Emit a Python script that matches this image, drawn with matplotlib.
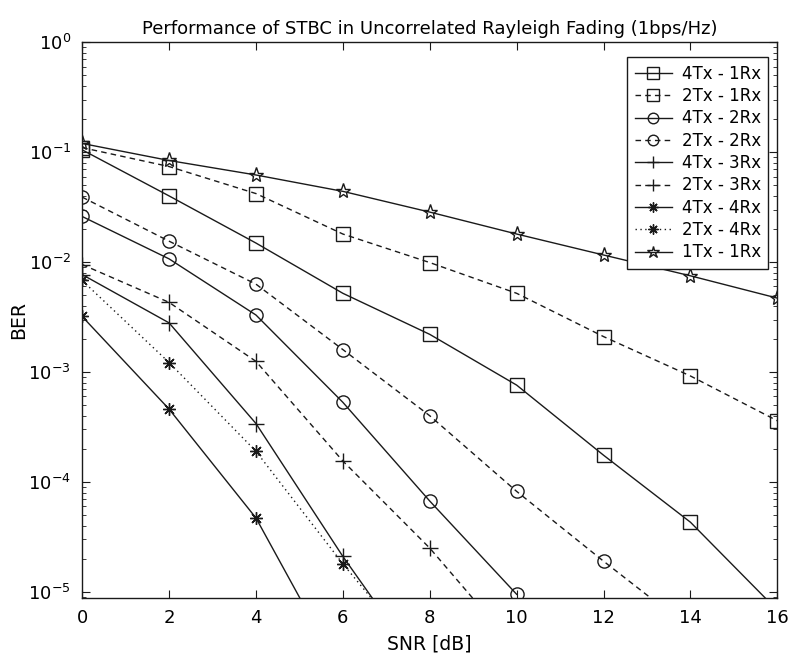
import numpy as np
import matplotlib
matplotlib.use("Agg")
import matplotlib.pyplot as plt
from matplotlib.ticker import LogLocator, NullFormatter

plt.rcParams["font.family"] = ["DejaVu Sans"]
plt.rcParams["mathtext.default"] = "regular"

nan = np.nan

# SNR points (dB)
snr = [0, 2, 4, 6, 8, 10, 12, 14, 16]

# BER (values below the axis just continue the curve)
ber_4tx_1rx = [0.105, 0.040, 0.0149, 0.0052, 0.0022, 7.6e-4, 1.75e-4, 4.3e-5, 6.8e-6]
ber_2tx_1rx = [0.11, 0.074, 0.042, 0.018, 0.0099, 0.0052, 0.0021, 9.2e-4, 3.6e-4]
ber_4tx_2rx = [0.026, 0.0107, 0.0033, 5.3e-4, 6.7e-5, 9.5e-6, nan, nan, nan]
ber_2tx_2rx = [0.039, 0.0155, 0.0063, 0.0016, 4.0e-4, 8.2e-5, 1.9e-5, 4.6e-6, nan]
ber_4tx_3rx = [0.0077, 0.0028, 3.4e-4, 2.1e-5, 1.6e-6, nan, nan, nan, nan]
ber_2tx_3rx = [0.0095, 0.0043, 0.00125, 1.55e-4, 2.5e-5, 3.0e-6, nan, nan, nan]
ber_4tx_4rx = [0.0032, 4.6e-4, 4.7e-5, 1.7e-6, nan, nan, nan, nan, nan]
ber_2tx_4rx = [0.0068, 0.00122, 1.9e-4, 1.8e-5, 2.0e-6, nan, nan, nan, nan]
ber_1tx_1rx = [0.12, 0.084, 0.062, 0.044, 0.0285, 0.018, 0.0116, 0.0075, 0.0047]

labels = ["4Tx - 1Rx", "2Tx - 1Rx", "4Tx - 2Rx", "2Tx - 2Rx", "4Tx - 3Rx",
          "2Tx - 3Rx", "4Tx - 4Rx", "2Tx - 4Rx", "1Tx - 1Rx"]

solid = "-"
dashed = (0, (4, 3))
dotted = (0, (1, 2.5))
asterisk = (8, 2, 0)

series = [
    (ber_4tx_1rx, solid, "s", 10),
    (ber_2tx_1rx, dashed, "s", 10),
    (ber_4tx_2rx, solid, "o", 9.5),
    (ber_2tx_2rx, dashed, "o", 9.5),
    (ber_4tx_3rx, solid, "+", 11),
    (ber_2tx_3rx, dashed, "+", 11),
    (ber_4tx_4rx, solid, asterisk, 9),
    (ber_2tx_4rx, dotted, asterisk, 9),
    (ber_1tx_1rx, solid, "*", 11),
]

fig = plt.figure(figsize=(7.9, 6.6), dpi=100)
ax = fig.add_axes([0.104, 0.094, 0.880, 0.842])

ink = "#1a1a1a"
for (y, ls, mk, ms), lab in zip(series, labels):
    ax.plot(snr, y, color=ink, linestyle=ls, linewidth=1.0, marker=mk,
            markersize=ms, markerfacecolor="none", markeredgecolor=ink,
            markeredgewidth=1.0, label=lab)

ax.set_yscale("log")
ax.set_xlim(0, 16)
ax.set_ylim(8.8e-6, 1)
ax.set_xticks(range(0, 17, 2))
ax.yaxis.set_major_locator(LogLocator(base=10, numticks=10))
ax.yaxis.set_minor_locator(LogLocator(base=10, subs=np.arange(2, 10), numticks=20))
ax.yaxis.set_minor_formatter(NullFormatter())

ax.tick_params(which="both", direction="in", top=True, right=True, color=ink)
ax.tick_params(which="major", length=6, labelsize=13, pad=8)
ax.tick_params(which="minor", length=3)
for s in ax.spines.values():
    s.set_color(ink)
    s.set_linewidth(1.0)

ax.set_title("Performance of STBC in Uncorrelated Rayleigh Fading (1bps/Hz)",
             fontsize=13, pad=6)
ax.set_xlabel("SNR [dB]", fontsize=13.5, labelpad=5)
ax.set_ylabel("BER", fontsize=13.5)
ax.yaxis.set_label_coords(-0.078, 0.5)

leg = ax.legend(loc="upper right", bbox_to_anchor=(0.987, 0.973), fontsize=12,
                frameon=True, fancybox=False, edgecolor=ink, framealpha=1,
                handlelength=2.2, handletextpad=0.6, labelspacing=0.26,
                borderpad=0.45, borderaxespad=0, markerscale=0.8)
leg.get_frame().set_linewidth(1.0)

fig.savefig("out.png", dpi=100)
